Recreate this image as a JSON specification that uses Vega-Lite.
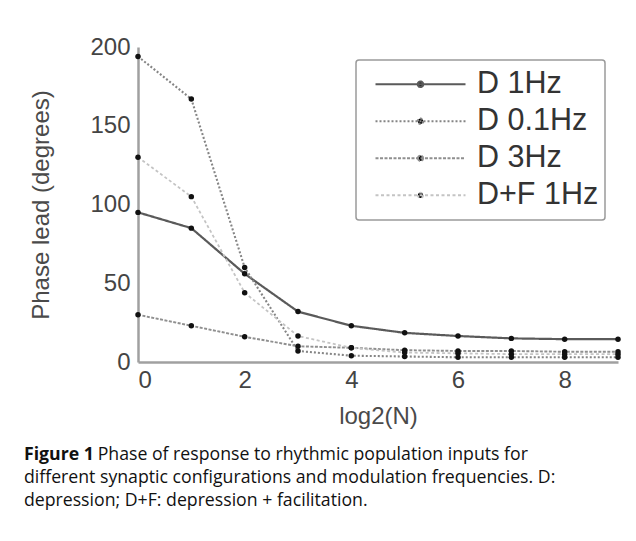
{
  "$schema": "https://vega.github.io/schema/vega-lite/v6.json",
  "width": 480,
  "height": 315,
  "autosize": "none",
  "padding": {"left": 138, "top": 47, "right": 18, "bottom": 179},
  "background": "white",
  "title": {
    "text": "Figure 1",
    "subtitle": [
      "\u200b\u2003\u2003\u2003\u2003\u2009Phase of response to rhythmic population inputs for",
      "different synaptic configurations and modulation frequencies. D:",
      "depression; D+F: depression + facilitation."
    ],
    "orient": "bottom",
    "anchor": "start",
    "frame": "bounds",
    "offset": 18,
    "dx": -6,
    "font": "Open Sans",
    "fontSize": 17.7,
    "fontWeight": "bold",
    "color": "#111",
    "subtitleFont": "Open Sans",
    "subtitleFontSize": 17.7,
    "subtitleColor": "#111",
    "subtitleLineHeight": 23,
    "subtitlePadding": -17.7
  },
  "data": {
    "values": [
      {"x": 0, "series": "D 1Hz", "v": 95},
      {"x": 1, "series": "D 1Hz", "v": 85},
      {"x": 2, "series": "D 1Hz", "v": 56},
      {"x": 3, "series": "D 1Hz", "v": 32},
      {"x": 4, "series": "D 1Hz", "v": 23},
      {"x": 5, "series": "D 1Hz", "v": 18.5},
      {"x": 6, "series": "D 1Hz", "v": 16.5},
      {"x": 7, "series": "D 1Hz", "v": 15},
      {"x": 8, "series": "D 1Hz", "v": 14.5},
      {"x": 9, "series": "D 1Hz", "v": 14.5},
      {"x": 0, "series": "D 0.1Hz", "v": 194},
      {"x": 1, "series": "D 0.1Hz", "v": 167},
      {"x": 2, "series": "D 0.1Hz", "v": 60},
      {"x": 3, "series": "D 0.1Hz", "v": 7},
      {"x": 4, "series": "D 0.1Hz", "v": 4},
      {"x": 5, "series": "D 0.1Hz", "v": 3.5},
      {"x": 6, "series": "D 0.1Hz", "v": 3},
      {"x": 7, "series": "D 0.1Hz", "v": 3},
      {"x": 8, "series": "D 0.1Hz", "v": 3},
      {"x": 9, "series": "D 0.1Hz", "v": 3},
      {"x": 0, "series": "D 3Hz", "v": 30},
      {"x": 1, "series": "D 3Hz", "v": 23},
      {"x": 2, "series": "D 3Hz", "v": 16},
      {"x": 3, "series": "D 3Hz", "v": 10},
      {"x": 4, "series": "D 3Hz", "v": 9},
      {"x": 5, "series": "D 3Hz", "v": 7.5},
      {"x": 6, "series": "D 3Hz", "v": 7},
      {"x": 7, "series": "D 3Hz", "v": 7},
      {"x": 8, "series": "D 3Hz", "v": 6.5},
      {"x": 9, "series": "D 3Hz", "v": 6.5},
      {"x": 0, "series": "D+F 1Hz", "v": 130},
      {"x": 1, "series": "D+F 1Hz", "v": 105},
      {"x": 2, "series": "D+F 1Hz", "v": 44},
      {"x": 3, "series": "D+F 1Hz", "v": 16.5},
      {"x": 4, "series": "D+F 1Hz", "v": 9},
      {"x": 5, "series": "D+F 1Hz", "v": 6},
      {"x": 6, "series": "D+F 1Hz", "v": 5.5},
      {"x": 7, "series": "D+F 1Hz", "v": 5},
      {"x": 8, "series": "D+F 1Hz", "v": 5},
      {"x": 9, "series": "D+F 1Hz", "v": 5}
    ]
  },
  "encoding": {
    "x": {
      "field": "x",
      "type": "quantitative",
      "scale": {"domain": [0, 9], "nice": false, "zero": false},
      "axis": {
        "title": "log2(N)",
        "values": [0, 2, 4, 6, 8],
        "grid": false,
        "ticks": false,
        "labelPadding": 6,
        "titlePadding": 12
      }
    },
    "y": {
      "field": "v",
      "type": "quantitative",
      "scale": {"domain": [0, 200], "nice": false},
      "axis": {
        "title": "Phase lead (degrees)",
        "values": [0, 50, 100, 150, 200],
        "grid": false,
        "ticks": false,
        "labelPadding": 8,
        "titlePadding": 36
      }
    }
  },
  "layer": [
    {
      "mark": {"type": "line"},
      "encoding": {
        "color": {
          "field": "series",
          "type": "nominal",
          "scale": {
            "domain": ["D 1Hz", "D 0.1Hz", "D 3Hz", "D+F 1Hz"],
            "range": ["#5a5a5a", "#858585", "#8f8f8f", "#c4c4c4"]
          },
          "legend": {
            "title": null,
            "encode": {"symbols": {"update": {"fill": {"value": "#000000"}, "fillOpacity": {"value": 1}}}}
          }
        },
        "strokeDash": {
          "field": "series",
          "type": "nominal",
          "scale": {
            "domain": ["D 1Hz", "D 0.1Hz", "D 3Hz", "D+F 1Hz"],
            "range": [[1, 0], [2, 2], [3, 1.5], [3, 2.5]]
          },
          "legend": {"title": null}
        },
        "strokeWidth": {
          "field": "series",
          "type": "nominal",
          "scale": {
            "domain": ["D 1Hz", "D 0.1Hz", "D 3Hz", "D+F 1Hz"],
            "range": [2.2, 1.8, 2.2, 1.3]
          },
          "legend": null
        }
      }
    },
    {
      "mark": {"type": "point", "filled": true, "color": "#111111", "size": 30, "opacity": 1},
      "encoding": {"detail": {"field": "series"}}
    }
  ],
  "config": {
    "font": "Liberation Sans",
    "view": {"stroke": null},
    "axis": {
      "labelFont": "Liberation Sans",
      "titleFont": "Liberation Sans",
      "labelFontSize": 24,
      "titleFontSize": 24,
      "labelColor": "#444444",
      "titleColor": "#4a4a4a",
      "titleFontWeight": "normal",
      "domainColor": "#a0a0a0",
      "domainWidth": 2.5
    },
    "legend": {
      "orient": "top-right",
      "offset": 13,
      "strokeColor": "#9a9a9a",
      "strokeWidth": 1.5,
      "cornerRadius": 3,
      "padding": 6,
      "symbolOffset": 12,
      "fillColor": "white",
      "symbolType": "M-1,0H1M0.06,0A0.06,0.06 0 1,1 -0.06,0A0.06,0.06 0 1,1 0.06,0Z",
      "symbolSize": 8100,
      "symbolStrokeWidth": 1.5,
      "clipHeight": 36.5,
      "rowPadding": 0,
      "labelFont": "Liberation Sans",
      "labelFontSize": 30.5,
      "labelColor": "#333333",
      "labelOffset": 10
    }
  }
}
